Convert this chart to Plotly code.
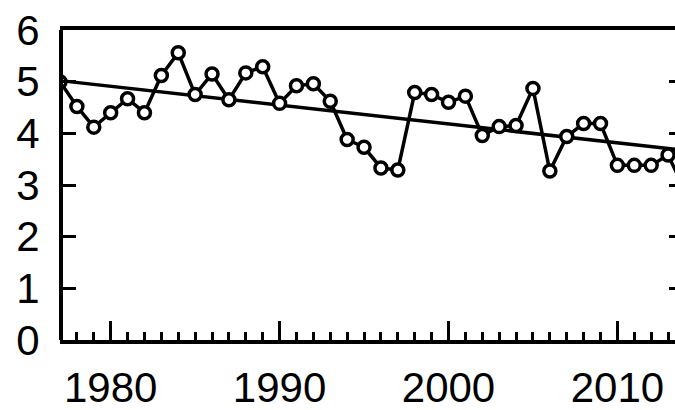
import plotly.graph_objects as go

# Annual series
years = list(range(1977, 2015))
values = [5.00, 4.52, 4.12, 4.40, 4.67, 4.40, 5.12, 5.56, 4.75, 5.15,
          4.65, 5.17, 5.29, 4.58, 4.92, 4.96, 4.62, 3.88, 3.73, 3.33,
          3.29, 4.79, 4.75, 4.60, 4.72, 3.96, 4.13, 4.15, 4.87, 3.27,
          3.94, 4.19, 4.19, 3.38, 3.38, 3.38, 3.58, 2.90]

# Linear trend endpoints
trend_years = [1977, 2014]
trend_values = [5.02, 3.67]

x_ticks = [1980, 1990, 2000, 2010]
y_ticks = [0, 1, 2, 3, 4, 5, 6]

W, H = 675, 410
FONT = "Liberation Sans, Arial, sans-serif"

fig = go.Figure()

# trend line sits underneath the observations
fig.add_trace(go.Scatter(
    x=trend_years, y=trend_values, mode="lines",
    line=dict(color="black", width=3.5),
    xaxis="x2", yaxis="y2", showlegend=False, hoverinfo="skip",
))
# empty trace that keeps the right-hand tick axis alive
fig.add_trace(go.Scatter(
    x=[], y=[], mode="lines", xaxis="x2", yaxis="y3",
    showlegend=False, hoverinfo="skip",
))
fig.add_trace(go.Scatter(
    x=years, y=values, mode="lines+markers",
    line=dict(color="black", width=3.5),
    marker=dict(symbol="circle", size=12, color="white",
                line=dict(color="black", width=3.5)),
    xaxis="x2", yaxis="y4", showlegend=False,
))

plot_left = 59.5
y_domain = [(H - 340) / H, (H - 30) / H]
fig.update_layout(
    width=W, height=H, autosize=False,
    margin=dict(l=0, r=0, t=0, b=0, pad=0, autoexpand=False),
    paper_bgcolor="white", plot_bgcolor="rgba(0,0,0,0)",
    font=dict(family=FONT, color="black", size=42),
    # faint page grid behind the chart
    xaxis=dict(domain=[0, 1], range=[0, W], anchor="y", automargin=False,
               tick0=1, dtick=31.3, showgrid=True, gridcolor="#ececec",
               gridwidth=1, showticklabels=False, ticks="",
               zeroline=False, showline=False, fixedrange=True),
    yaxis=dict(domain=[0, 1], range=[H, 0], anchor="x", automargin=False,
               tick0=28, dtick=31.3, showgrid=True, gridcolor="#ececec",
               gridwidth=1, showticklabels=False, ticks="",
               zeroline=False, showline=False, fixedrange=True),
    # data axes
    xaxis2=dict(domain=[plot_left / W, 1], range=[1976.97, 2013.41],
                anchor="y2", automargin=False,
                tickmode="array", tickvals=x_ticks,
                ticks="inside", ticklen=19, tickwidth=2.5, tickcolor="black",
                minor=dict(ticks="inside", ticklen=8, tickwidth=2.5,
                           tickcolor="black", dtick=1, tick0=1977,
                           showgrid=False),
                showline=True, linecolor="black", linewidth=4, mirror=True,
                showgrid=False, zeroline=False,
                tickfont=dict(family=FONT, size=42, color="black"),
                ticklabelstandoff=8),
    yaxis2=dict(domain=y_domain, range=[0, 6],
                anchor="x2", automargin=False,
                showline=False, ticks="", showticklabels=False,
                showgrid=False, zeroline=False),
    # right-hand inner ticks
    yaxis3=dict(overlaying="y2", anchor="free", position=1, side="right",
                automargin=False,
                range=[0, 6], tickmode="array", tickvals=y_ticks,
                ticks="inside", ticklen=6, tickwidth=2.5, tickcolor="black",
                showticklabels=False, showline=False, showgrid=False,
                zeroline=False),
    # left value axis, placed on the axis frame
    yaxis4=dict(overlaying="y2", anchor="free", position=61 / W, side="left",
                automargin=False,
                range=[0, 6], tickmode="array", tickvals=y_ticks,
                ticks="inside", ticklen=13, tickwidth=2.5, tickcolor="black",
                showline=True, linecolor="black", linewidth=4,
                showgrid=False, zeroline=False,
                tickfont=dict(family=FONT, size=42, color="black"),
                ticklabelstandoff=11),
)

fig.write_html("out.html")
